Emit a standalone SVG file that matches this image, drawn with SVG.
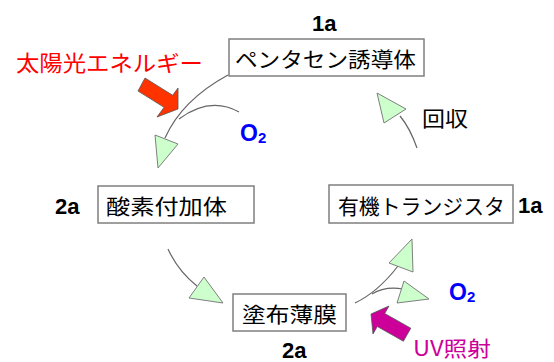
<svg xmlns="http://www.w3.org/2000/svg" width="554" height="362" viewBox="0 0 554 362">
<style>
.box{fill:#fff;stroke:#7f7f7f;stroke-width:1.5}
.jp{font-family:"Noto Sans CJK JP","Noto Sans",sans-serif;font-size:21px;fill:#000}
.lbl{font-family:"Liberation Sans",Arial,sans-serif;font-weight:bold;font-size:22px;fill:#000}
.o2{font-family:"Liberation Sans",Arial,sans-serif;font-weight:bold;fill:#0000ff}
.line{fill:none;stroke:#666;stroke-width:1.2}
.head{fill:#ccffcc;stroke:#7f7f7f;stroke-width:1}
</style>
<rect width="554" height="362" fill="#fff"/>
<g id="node-1a-top">
<rect class="box" x="229" y="39" width="195" height="37"/>
<text class="jp" x="235" y="67" textLength="181" lengthAdjust="spacingAndGlyphs">ペンタセン誘導体</text>
<text class="lbl" x="312" y="31">1a</text>
</g>
<g id="node-2a-left">
<rect class="box" x="98" y="186" width="156" height="37"/>
<text class="jp" x="106" y="214" textLength="121" lengthAdjust="spacingAndGlyphs">酸素付加体</text>
<text class="lbl" x="55" y="214">2a</text>
</g>
<g id="node-1a-right">
<rect class="box" x="329" y="185" width="184" height="38"/>
<text class="jp" x="338" y="214" textLength="167" lengthAdjust="spacingAndGlyphs">有機トランジスタ</text>
<text class="lbl" x="518" y="213">1a</text>
</g>
<g id="node-2a-bottom">
<rect class="box" x="233" y="294" width="113" height="37"/>
<text class="jp" x="242" y="322" textLength="95" lengthAdjust="spacingAndGlyphs">塗布薄膜</text>
<text class="lbl" x="282" y="358">2a</text>
</g>
<g id="connectors">
<path class="line" d="M228,75 Q182,100 165,138"/>
<path class="line" d="M239,112 Q210,96 179,119"/>
<polygon class="head" points="155,135 178,144 158,168"/>
<path class="line" d="M417,148 Q410,128 400,116"/>
<polygon class="head" points="377,93 406,109 384,123"/>
<path class="line" d="M168,249 Q178,271 197,286"/>
<polygon class="head" points="204,277 189,298 223,303"/>
<path class="line" d="M355,303 Q378,292 398,266"/>
<path class="line" d="M372,294 Q385,286 403,289"/>
<polygon class="head" points="412,239 389,263 413,272"/>
<polygon class="head" points="404,281 397,303 429,299"/>
</g>
<g id="energy">
<text x="16" y="71" font-family="'Noto Sans CJK JP','Noto Sans',sans-serif" font-size="22" fill="#ff0000" textLength="187" lengthAdjust="spacingAndGlyphs">太陽光エネルギー</text>
<polygon points="145,78 172.7,95.3 178,88 178,109 157,117 164.1,107.3 138,91" fill="#ff3300" stroke="#555" stroke-width="0.8"/>
</g>
<g id="uv">
<polygon points="371,314 389,306 384.7,313.5 410.8,328.2 403.4,341.2 377.3,326.5 373,334" fill="#cc0099" stroke="#555" stroke-width="0.8"/>
<text x="413" y="356" font-family="'Noto Sans CJK JP','Noto Sans',sans-serif" font-size="21" fill="#cc0099" textLength="78" lengthAdjust="spacingAndGlyphs">UV照射</text>
</g>
<g id="o2-top">
<text class="o2" x="240" y="141" font-size="23">O</text>
<text class="o2" x="258" y="143" font-size="15">2</text>
</g>
<g id="o2-bottom">
<text class="o2" x="449" y="300" font-size="23">O</text>
<text class="o2" x="467" y="302" font-size="15">2</text>
</g>
<g id="recover">
<text class="jp" x="422" y="126" textLength="46" lengthAdjust="spacingAndGlyphs">回収</text>
</g>
</svg>
